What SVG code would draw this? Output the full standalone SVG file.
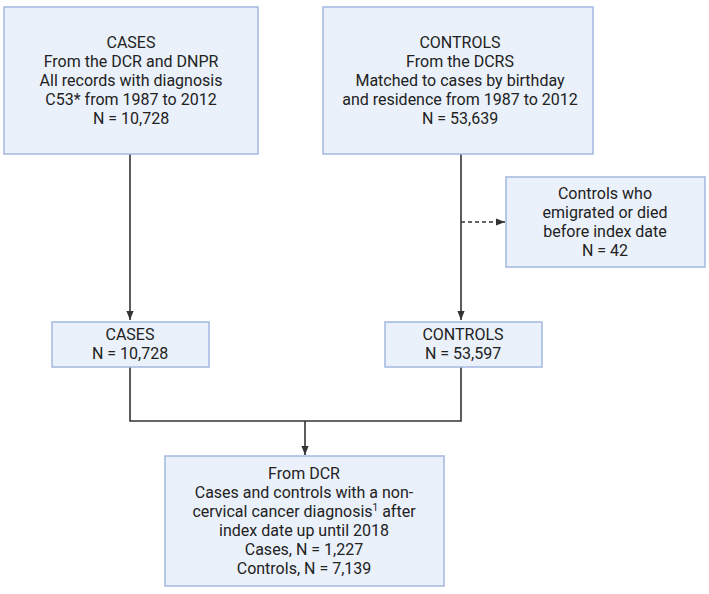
<svg xmlns="http://www.w3.org/2000/svg" width="709" height="594" viewBox="0 0 709 594">
<style>
.box{fill:#eaf1fb;stroke:#a3b8df;stroke-width:1.5}
text{font-family:Roboto,"Liberation Sans",sans-serif;font-size:16px;fill:#222;text-anchor:middle}
.ln{fill:none;stroke:#333;stroke-width:1.6}
.dash{stroke-dasharray:4 3}
</style>
<defs>
<marker id="ah" viewBox="0 0 10 10" refX="10" refY="5" markerWidth="6" markerHeight="6" markerUnits="userSpaceOnUse" orient="auto"><path d="M0,0 L10,5 L0,10 Z" fill="#333"/></marker>
<marker id="ah2" viewBox="0 0 10 10" refX="10" refY="5" markerWidth="9" markerHeight="9" markerUnits="userSpaceOnUse" orient="auto"><path d="M0,1 L10,5 L0,9 Z" fill="#333"/></marker>
</defs>
<g id="connectors">
<line class="ln" x1="130" y1="154" x2="130" y2="320" marker-end="url(#ah2)"/>
<line class="ln" x1="461" y1="154" x2="461" y2="320" marker-end="url(#ah2)"/>
<line class="ln dash" x1="461" y1="222" x2="505" y2="222" marker-end="url(#ah2)"/>
<polyline class="ln" points="130,367 130,421 461,421 461,367"/>
<line class="ln" x1="305" y1="421" x2="305" y2="455" marker-end="url(#ah2)"/>
</g>
<g id="cases-source">
<rect class="box" x="4" y="7" width="254" height="147"/>
<text x="131" y="48">CASES</text>
<text x="131" y="67">From the DCR and DNPR</text>
<text x="131" y="86">All records with diagnosis</text>
<text x="131" y="105">C53* from 1987 to 2012</text>
<text x="131" y="124">N = 10,728</text>
</g>
<g id="controls-source">
<rect class="box" x="323" y="7" width="270" height="147"/>
<text x="460" y="48">CONTROLS</text>
<text x="460" y="67">From the DCRS</text>
<text x="460" y="86">Matched to cases by birthday</text>
<text x="460" y="105">and residence from 1987 to 2012</text>
<text x="460" y="124">N = 53,639</text>
</g>
<g id="excluded">
<rect class="box" x="506" y="177" width="199" height="90"/>
<text x="605" y="199">Controls who</text>
<text x="605" y="218">emigrated or died</text>
<text x="605" y="237">before index date</text>
<text x="605" y="256">N = 42</text>
</g>
<g id="cases">
<rect class="box" x="52" y="322" width="157" height="45"/>
<text x="130" y="340">CASES</text>
<text x="130" y="359">N = 10,728</text>
</g>
<g id="controls">
<rect class="box" x="385" y="322" width="157" height="45"/>
<text x="463" y="340">CONTROLS</text>
<text x="463" y="359">N = 53,597</text>
</g>
<g id="outcome">
<rect class="box" x="165" y="456" width="279" height="130"/>
<text x="304" y="479">From DCR</text>
<text x="304" y="498">Cases and controls with a non-</text>
<text x="304" y="517">cervical cancer diagnosis<tspan font-size="10" dy="-6">1</tspan><tspan dy="6"> after</tspan></text>
<text x="304" y="536">index date up until 2018</text>
<text x="304" y="555">Cases, N = 1,227</text>
<text x="304" y="574">Controls, N = 7,139</text>
</g>
</svg>
